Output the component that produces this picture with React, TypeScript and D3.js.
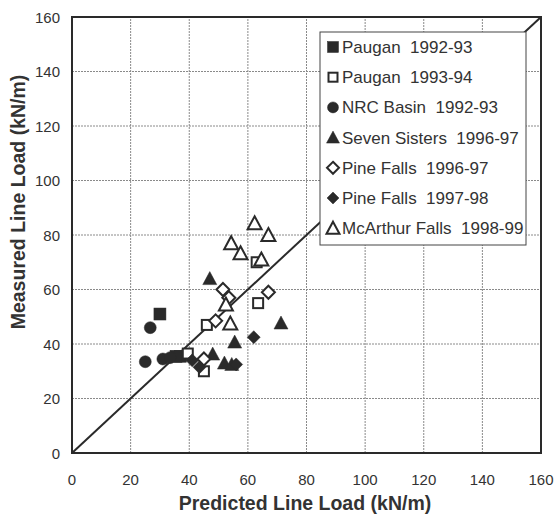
import React from "react";
import * as d3 from "d3";

const xTicks = [0, 20, 40, 60, 80, 100, 120, 140, 160];
const yTicks = [0, 20, 40, 60, 80, 100, 120, 140, 160];

const seriesNames = [
  "Paugan  1992-93",
  "Paugan  1993-94",
  "NRC Basin  1992-93",
  "Seven Sisters  1996-97",
  "Pine Falls  1996-97",
  "Pine Falls  1997-98",
  "McArthur Falls  1998-99",
];

const paugan9293: [number, number][] = [[30, 51], [35.5, 35.5], [37, 35.5]];
const paugan9394: [number, number][] = [[63, 70], [63.5, 55], [46, 47], [39.5, 36.5], [45, 30]];
const nrcBasin: [number, number][] = [[26.7, 46], [25, 33.5], [31, 34.5], [33.5, 35]];
const sevenSisters: [number, number][] = [[47, 64], [71.3, 47.7], [55.5, 40.7], [48, 36.3], [52, 33], [54.5, 32.5]];
const pine9697: [number, number][] = [[51.5, 60], [53.5, 57], [67, 59], [49, 48.5], [45, 34.5]];
const pine9798: [number, number][] = [[62, 42.5], [41, 34], [43.5, 31.5], [56, 32.5]];
const mcarthur: [number, number][] = [[62.3, 84.3], [67, 80], [54.3, 77], [57.5, 73.3], [64.6, 71], [52.5, 54.5], [54, 47.5]];

const seriesData = [paugan9293, paugan9394, nrcBasin, sevenSisters, pine9697, pine9798, mcarthur];
const seriesShapes = ["square", "square", "circle", "triangle", "diamond", "diamond", "triangle"];
const seriesFilled = [true, false, true, true, false, true, false];

const INK = "#2a2a2a";

function Marker({ shape, filled, x, y, s }: { shape: string; filled: boolean; x: number; y: number; s: number }) {
  const fill = filled ? INK : "white";
  const sw = filled ? 0.5 : 2;
  if (shape === "square") {
    const h = s / 2 - (filled ? 0 : 1);
    return <rect x={x - h} y={y - h} width={2 * h} height={2 * h} fill={fill} stroke={INK} strokeWidth={sw} />;
  }
  if (shape === "circle") {
    return <circle cx={x} cy={y} r={s / 2} fill={fill} stroke={INK} strokeWidth={sw} />;
  }
  if (shape === "triangle") {
    const h = s / 2;
    const p = `${x},${y - h - 1} ${x + h + 1},${y + h} ${x - h - 1},${y + h}`;
    return <polygon points={p} fill={fill} stroke={INK} strokeWidth={sw} strokeLinejoin="miter" />;
  }
  const h = s / 2 + 0.5;
  const p = `${x},${y - h} ${x + h},${y} ${x},${y + h} ${x - h},${y}`;
  return <polygon points={p} fill={fill} stroke={INK} strokeWidth={sw} />;
}

export default function App() {
  const W = 556, H = 519;
  const x = d3.scaleLinear().domain([0, 160]).range([72, 541]);
  const y = d3.scaleLinear().domain([0, 160]).range([453, 17]);
  const font = "'Liberation Sans', Arial, sans-serif";

  const legX = 320, legY = 32, legW = 206, legH = 213;
  const rowY = (i: number) => 47 + i * 30.2;

  return (
    <svg width={W} height={H} style={{ position: "absolute", left: 0, top: 0, background: "white" }} fontFamily={font}>
      <rect x={0} y={0} width={W} height={H} fill="white" />
      {xTicks.slice(1, -1).map((t) => (
        <line key={"gx" + t} x1={x(t)} x2={x(t)} y1={y(0)} y2={y(160)} stroke="#8a8a8a" strokeWidth={1} strokeDasharray="2,1" />
      ))}
      {yTicks.slice(1, -1).map((t) => (
        <line key={"gy" + t} x1={x(0)} x2={x(160)} y1={y(t)} y2={y(t)} stroke="#8a8a8a" strokeWidth={1} strokeDasharray="2,1" />
      ))}
      <line x1={x(0)} y1={y(0)} x2={x(160)} y2={y(160)} stroke={INK} strokeWidth={2} />
      {seriesData.map((data, si) =>
        data.map((d, i) => (
          <Marker key={si + "-" + i} shape={seriesShapes[si]} filled={seriesFilled[si]} x={x(d[0])} y={y(d[1])} s={12} />
        ))
      )}
      <rect x={x(0)} y={y(160)} width={x(160) - x(0)} height={y(0) - y(160)} fill="none" stroke={INK} strokeWidth={2} />
      <rect x={legX} y={legY} width={legW} height={legH} fill="white" stroke="#444" strokeWidth={1} />
      {seriesNames.map((n, i) => (
        <g key={n}>
          <Marker shape={seriesShapes[i]} filled={seriesFilled[i]} x={333} y={rowY(i)} s={11} />
          <text x={342} y={rowY(i) + 6} fontSize={17} fill="#333">
            {n.replace("  ", "\u00a0\u00a0")}
          </text>
        </g>
      ))}
      {xTicks.map((t) => (
        <text key={"xt" + t} x={x(t)} y={485} fontSize={15} textAnchor="middle" fill="#333">{t}</text>
      ))}
      {yTicks.map((t) => (
        <text key={"yt" + t} x={60} y={y(t) + 5.5} fontSize={15} textAnchor="end" fill="#333">{t}</text>
      ))}
      <text x={305} y={510} fontSize={19.5} fontWeight="bold" textAnchor="middle" fill="#333">Predicted Line Load (kN/m)</text>
      <text transform="translate(25,202) rotate(-90)" fontSize={19.5} fontWeight="bold" textAnchor="middle" fill="#333">Measured Line Load (kN/m)</text>
    </svg>
  );
}
